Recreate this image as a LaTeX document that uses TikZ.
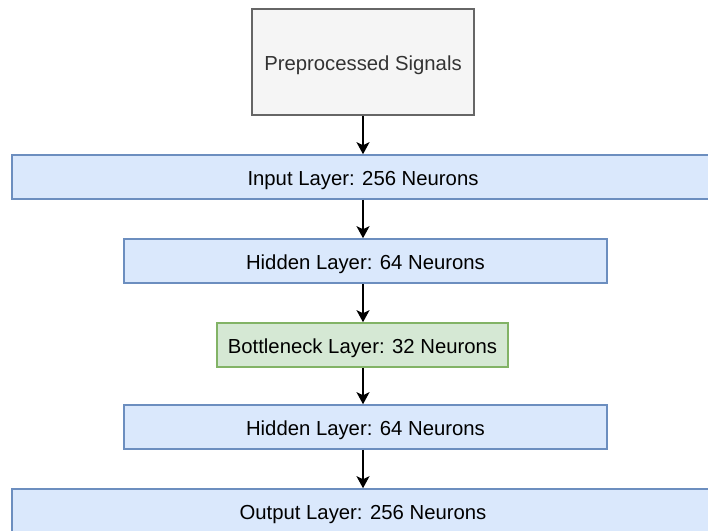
\documentclass[tikz,border=0pt]{standalone}
\usepackage{fontspec}
\setmainfont{Liberation Sans}
\usetikzlibrary{arrows.meta}
\definecolor{greyfill}{HTML}{F5F5F5}
\definecolor{greyline}{HTML}{666666}
\definecolor{bluefill}{HTML}{DAE8FC}
\definecolor{blueline}{HTML}{6C8EBF}
\definecolor{greenfill}{HTML}{D5E8D4}
\definecolor{greenline}{HTML}{82B366}

\begin{document}
\begin{tikzpicture}[x=1pt,y=-1pt,
    box/.style={line width=1.6pt, inner sep=0pt, text height=16pt, text depth=0pt, font=\fontsize{20.3}{24}\selectfont},
    source/.style={box, draw=greyline, fill=greyfill, text=black!80, minimum width=222pt, minimum height=106pt},
    layer/.style={box, draw=blueline, fill=bluefill, minimum height=44pt},
    bottleneck/.style={box, draw=greenline, fill=greenfill, minimum height=44pt, minimum width=291pt},
    flow/.style={-{Stealth[length=12pt,width=13pt,inset=3pt]}, line width=1.6pt}]
    \useasboundingbox (0,0) rectangle (708,530);
    \clip (0,0) rectangle (708,530);

    \node[source] (pre) at (363,62) {Preprocessed Signals};
    \node[layer, minimum width=702pt] (in) at (363,177) {Input Layer: 256 Neurons};
    \node[layer, minimum width=483pt] (hidA) at (365.5,261) {Hidden Layer: 64 Neurons};
    \node[bottleneck] (neck) at (362.5,345) {Bottleneck Layer: 32 Neurons};
    \node[layer, minimum width=483pt] (hidB) at (365.5,427) {Hidden Layer: 64 Neurons};
    \node[layer, minimum width=702pt] (out) at (363,511) {Output Layer: 256 Neurons};

    % arrows down the stack
    \draw[flow] (pre.south) -- (pre.south |- in.north);
    \draw[flow] (in.south) -- (in.south |- hidA.north);
    \draw[flow] (in.south |- hidA.south) -- (in.south |- neck.north);
    \draw[flow] (in.south |- neck.south) -- (in.south |- hidB.north);
    \draw[flow] (in.south |- hidB.south) -- (in.south |- out.north);
\end{tikzpicture}
\end{document}
